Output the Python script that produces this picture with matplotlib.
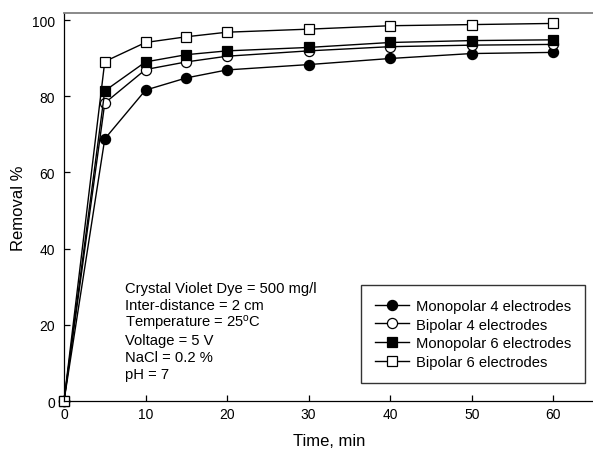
import matplotlib
matplotlib.use("Agg")
import matplotlib.pyplot as plt

plt.rcParams['font.family'] = ['Liberation Sans', 'DejaVu Sans']
plt.rcParams['mathtext.fontset'] = 'custom'
plt.rcParams['mathtext.rm'] = 'Liberation Sans'
plt.rcParams['mathtext.it'] = 'Liberation Sans:italic'

time_min = [0, 5, 10, 15, 20, 30, 40, 50, 60]
mono4 = [0, 68.8, 81.6, 84.8, 86.9, 88.3, 89.9, 91.2, 91.5]
bip4 = [0, 78.2, 87.0, 89.0, 90.5, 91.9, 93.0, 93.4, 93.6]
mono6 = [0, 81.4, 89.0, 90.9, 91.9, 92.8, 94.1, 94.6, 94.8]
bip6 = [0, 89.1, 94.1, 95.6, 96.8, 97.6, 98.5, 98.8, 99.1]
labels = ["Monopolar 4 electrodes", "Bipolar 4 electrodes",
          "Monopolar 6 electrodes", "Bipolar 6 electrodes"]
x_ticks = [0, 10, 20, 30, 40, 50, 60]
y_ticks = [0, 20, 40, 60, 80, 100]
info_lines = ["Crystal Violet Dye = 500 mg/l", "Inter-distance = 2 cm",
              r"Temperature = 25$^{\mathrm{o}}$C", "Voltage = 5 V",
              "NaCl = 0.2 %", "pH = 7"]

W, H = 593, 452
fig = plt.figure(figsize=(W / 100, H / 100), dpi=100)
ax = fig.add_axes([64 / W, 1 - 402 / H, (594 - 64) / W, (402 - 14) / H])

styles = [dict(marker='o', mfc='black'), dict(marker='o', mfc='white'),
          dict(marker='s', mfc='black'), dict(marker='s', mfc='white')]
for ys, lab, st in zip([mono4, bip4, mono6, bip6], labels, styles):
    ax.plot(time_min, ys, color='black', lw=1.0, ms=7.3, mec='black', mew=0.9,
            label=lab, clip_on=False, **st)

ax.set_xlim(0, 65)
ax.set_ylim(0, 101.84)
ax.set_xticks(x_ticks)
ax.set_yticks(y_ticks)
ax.tick_params(direction='in', length=4, width=0.9, labelsize=10)
ax.tick_params(axis='y', pad=6.5)
ax.tick_params(axis='x', pad=4)
ax.spines['right'].set_visible(False)
ax.spines['top'].set_color('#808080')
ax.spines['top'].set_linewidth(1.3)
for s in ['left', 'bottom']:
    ax.spines[s].set_linewidth(0.9)

ax.set_xlabel("Time, min", fontsize=12, labelpad=9)
ax.set_ylabel("Removal %", fontsize=12, labelpad=4)

for i, line in enumerate(info_lines):
    fig.text(125 / W, 1 - (293 + 17.2 * i) / H, line, fontsize=10.6,
             va='baseline', ha='left')

leg = ax.legend(loc='lower right', bbox_to_anchor=(585 / W, 1 - 384 / H),
                bbox_transform=fig.transFigure, borderaxespad=0,
                fontsize=10.6, frameon=True, fancybox=False, shadow=False,
                borderpad=0.95, labelspacing=0.32, handlelength=2.3,
                handletextpad=0.45)
leg.get_frame().set_edgecolor('black')
leg.get_frame().set_linewidth(1.0)

fig.savefig("out.png", dpi=100)
